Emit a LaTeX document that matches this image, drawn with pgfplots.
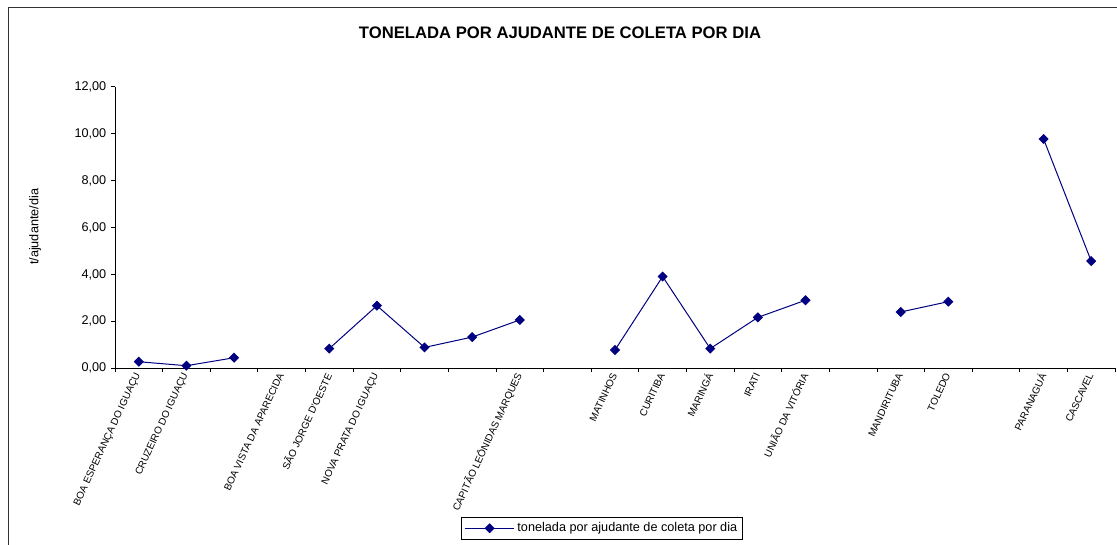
\documentclass[border=0pt]{standalone}
\usepackage{pgfplots}
\pgfplotsset{compat=1.18}
\usepackage{fontspec}
\setmainfont{Liberation Sans}
\definecolor{navy}{RGB}{0,0,128}
\begin{document}
\begin{tikzpicture}
\useasboundingbox (0,0) rectangle (837.75pt,-408.75pt);
\draw[line width=0.75pt, black!80] (6pt,-6pt) rectangle (860pt,-430pt);
\node[font=\fontsize{12.5}{15}\selectfont\bfseries] at (420pt,-24.75pt) {TONELADA POR AJUDANTE DE COLETA POR DIA};
\begin{axis}[
  at={(86.25pt,-276.225pt)}, anchor=south west, scale only axis,
  width=750pt, height=211.2pt,
  xmin=0.5, xmax=21.5, ymin=0, ymax=12,
  axis x line*=bottom, axis y line*=left,
  axis line style={line width=0.6pt, black},
  unbounded coords=jump,
  xtick={1,...,21},
  major x tick style={draw=none},
  minor xtick={0.5,1.5,...,21.5},
  ytick={0,2,...,12},
  tick align=outside,
  tick style={black, line width=0.6pt},
  major tick length=3pt, minor tick length=3pt,
  /pgf/number format/assume math mode=true,
  yticklabel style={/pgf/number format/.cd, fixed, fixed zerofill, precision=2, use comma, 1000 sep={}},
  tick label style={font=\fontsize{9.5}{11}\selectfont},
  xticklabels={BOA ESPERANÇA DO IGUAÇU, CRUZEIRO DO IGUAÇU, , BOA VISTA DA APARECIDA, SÃO JORGE D'OESTE, NOVA PRATA DO IGUAÇU, , , CAPITÃO LEÔNIDAS MARQUES, , MATINHOS, CURITIBA, MARINGÁ, IRATI, UNIÃO DA VITÓRIA, , MANDIRITUBA, TOLEDO, , PARANAGUÁ, CASCAVEL},
  xticklabel style={font=\fontsize{7.5}{8}\selectfont, rotate=65, anchor=east, inner sep=1pt},
  ylabel={t/ajudante/dia},
  ylabel style={at={(axis description cs:-0.08,0.502)}, anchor=center, font=\fontsize{9.5}{11}\selectfont},
  legend style={at={(axis description cs:0.3464,-0.528)}, anchor=north west, draw=black, line width=0.6pt, font=\fontsize{9.5}{11}\selectfont, inner sep=2pt},
  legend cell align=left,
  legend image code/.code={\draw[mark repeat=2,mark phase=2,#1] plot coordinates {(0cm,0cm)(0.65cm,0cm)(1.3cm,0cm)};},
]
\addplot[navy, line width=0.75pt, mark=square*, mark size=2.3pt, mark options={rotate=45, fill=navy, solid}]
 coordinates {(1,0.28)(2,0.11)(3,0.45)(4,nan)(5,0.84)(6,2.67)(7,0.89)(8,1.33)(9,2.06)(10,nan)(11,0.78)(12,3.91)(13,0.84)(14,2.17)(15,2.90)(16,nan)(17,2.40)(18,2.84)(19,nan)(20,9.77)(21,4.57)};
\addlegendentry{tonelada por ajudante de coleta por dia}
\end{axis}
\end{tikzpicture}
\end{document}
